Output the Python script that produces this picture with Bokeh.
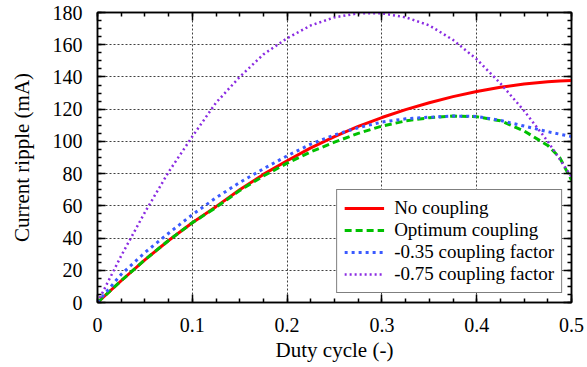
from bokeh.plotting import figure
from bokeh.models import (FixedTicker, LinearAxis, Legend, LegendItem, Range1d,
                          CustomLabelingPolicy)
from bokeh.embed import file_html
from bokeh.resources import INLINE

# ---- data ----
duty = [0.0, 0.025, 0.05, 0.075, 0.1, 0.125, 0.15, 0.175, 0.2, 0.225, 0.25,
        0.275, 0.3, 0.325, 0.35, 0.375, 0.4, 0.425, 0.45, 0.475, 0.4875, 0.5]
no_coupling = [0, 13.5, 26.5, 38.5, 49.5, 59.5, 70, 79.5, 88, 96, 103,
               109.3, 114.8, 119.7, 124, 127.8, 131, 133.6, 135.6, 137, 137.5, 137.8]
optimum = [0, 13.5, 26.5, 38.5, 49.5, 59, 69.5, 78.5, 86.5, 93.5, 99.5,
           105, 109.5, 112.7, 114.7, 115.7, 115.3, 112.8, 106.5, 97.5, 90, 76]
factor_035 = [0, 17.5, 31, 43, 54.5, 65, 74.5, 83, 91, 98.3, 104,
              108.5, 112, 114, 115, 115.7, 115.5, 113, 109.5, 106, 104.5, 103]
factor_075 = [0, 29, 56, 81, 103, 124, 140, 154, 164, 172, 177,
              179.5, 179.5, 177, 172, 163, 151, 136, 119, 100, 89, 78]

series_labels = ["No coupling", "Optimum coupling",
                 "-0.35 coupling factor", "-0.75 coupling factor"]

x_major = [0, 0.1, 0.2, 0.3, 0.4, 0.5]
x_tick_labels = ["0", "0.1", "0.2", "0.3", "0.4", "0.5"]
x_minor = [i * 0.025 for i in range(21)]
y_major = [0, 20, 40, 60, 80, 100, 120, 140, 160, 180]
y_tick_labels = ["0", "20", "40", "60", "80", "100", "120", "140", "160", "180"]
y_minor = [i * 5 for i in range(37)]

FONT = "Liberation Serif"

p = figure(width=587, height=367, x_range=Range1d(0, 0.5), y_range=Range1d(0, 180),
           output_backend="svg", toolbar_location=None,
           min_border_left=97, min_border_right=16, min_border_top=12, min_border_bottom=65,
           x_axis_label="Duty cycle (-)", y_axis_label="Current ripple (mA)")

p.outline_line_color = "black"
p.outline_line_width = 1.5
p.background_fill_color = "white"
p.border_fill_color = "white"

xt = FixedTicker(ticks=x_major, minor_ticks=x_minor)
yt = FixedTicker(ticks=y_major, minor_ticks=y_minor)


def style_axis(ax, show_labels=True):
    ax.axis_line_color = "black"
    ax.axis_line_width = 1.5
    ax.major_tick_in = 8
    ax.major_tick_out = 0
    ax.minor_tick_in = 4
    ax.minor_tick_out = 0
    ax.major_tick_line_color = "black"
    ax.minor_tick_line_color = "black"
    ax.major_tick_line_width = 1.5
    ax.minor_tick_line_width = 1.5
    ax.major_label_text_font = FONT
    ax.major_label_text_font_style = "normal"
    ax.major_label_text_color = "black"
    if show_labels:
        ax.major_label_text_font_size = "20px"
        ax.axis_label_text_font = FONT
        ax.axis_label_text_font_size = "21px"
        ax.axis_label_text_font_style = "normal"
        ax.axis_label_text_color = "black"
    else:
        # mirror axis: ticks only, every label filtered out
        ax.major_label_text_font_size = "1px"
        ax.major_label_standoff = 0
        ax.axis_label = None
        ax.major_label_policy = CustomLabelingPolicy(
            code="for (const i of indices) indices.unset(i); return indices")


xa = p.xaxis[0]
xa.ticker = xt
xa.major_label_overrides = {v: s for v, s in zip(x_major, x_tick_labels)}
style_axis(xa)
xa.major_label_standoff = 15
xa.axis_label_standoff = 3

ya = p.yaxis[0]
ya.ticker = yt
ya.major_label_overrides = {v: s for v, s in zip(y_major, y_tick_labels)}
style_axis(ya)
ya.major_label_standoff = 15
ya.axis_label_standoff = 16

top = LinearAxis(ticker=FixedTicker(ticks=x_major, minor_ticks=x_minor))
style_axis(top, False)
p.add_layout(top, "above")
right = LinearAxis(ticker=FixedTicker(ticks=y_major, minor_ticks=y_minor))
style_axis(right, False)
p.add_layout(right, "right")

p.xgrid.ticker = xt
p.ygrid.ticker = yt
for g in (p.xgrid[0], p.ygrid[0]):
    g.grid_line_color = "black"
    g.grid_line_alpha = 0.75
    g.grid_line_dash = "2 2"
    g.grid_line_width = 1

r1 = p.line(duty, no_coupling, line_color="#ff0000", line_width=3)
r2 = p.line(duty, optimum, line_color="#00c000", line_width=3, line_dash="7 4")
r3 = p.line(duty, factor_035, line_color="#3a5aff", line_width=3, line_dash="3 4")
r4 = p.line(duty, factor_075, line_color="#8a2be2", line_width=2.5, line_dash="2 3")

legend = Legend(items=[LegendItem(label=lab, renderers=[r])
                       for lab, r in zip(series_labels, [r1, r2, r3, r4])],
                location="bottom_right")
legend.label_text_font = FONT
legend.label_text_font_style = "normal"
legend.label_text_font_size = "19px"
legend.label_text_color = "black"
legend.border_line_color = "black"
legend.border_line_width = 1.5
legend.background_fill_alpha = 1
legend.glyph_width = 40
legend.glyph_height = 22
legend.label_height = 22
legend.spacing = 0
legend.padding = 7
legend.margin = 9
legend.label_standoff = 10
p.add_layout(legend)

open("out.html", "w").write(file_html(p, INLINE))
